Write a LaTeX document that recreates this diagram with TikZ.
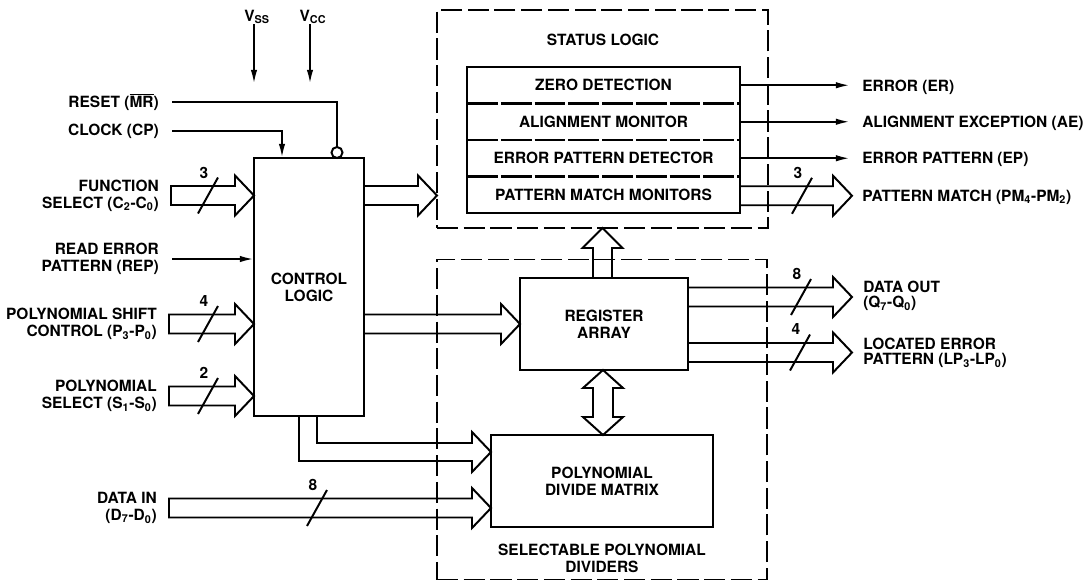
\documentclass[tikz,border=0pt]{standalone}
\usepackage{fontspec}
\setmainfont{TeX Gyre Heros}
\usetikzlibrary{arrows.meta,calc,positioning}

\newlength\px
\setlength\px{0.025cm}
\newcommand\dgfont{\fontsize{11}{12}\selectfont\bfseries}

% hollow bus arrow, from tail #1 to tip #2 (same height)
\newcommand\hbus[2]{%
  \draw[bus] ($(#1)+(0,-9.5)$) -- ($(#2)+(-19,-9.5)$) -- ($(#2)+(-19,-20)$)
    -- (#2) -- ($(#2)+(-19,20)$) -- ($(#2)+(-19,9.5)$) -- ($(#1)+(0,9.5)$) -- cycle;}
% bus width mark: point, name, number
\newcommand\bwidth[3]{%
  \draw[wire] ($(#1)+(-10,18)$) -- ($(#1)+(10,-18)$);
  \node[txt] (#2) at ($(#1)+(-4,-23)$) {#3};}

\tikzset{
  blk/.style={draw, line width=2.1pt, inner sep=0pt, outer sep=0pt, align=center, font=\dgfont},
  grp/.style={draw, line width=1.4pt, dash pattern=on 15pt off 4pt, inner sep=0pt, outer sep=0pt},
  row/.style={inner sep=0pt, outer sep=0pt, minimum width=273\px, minimum height=36.5\px, font=\dgfont},
  txt/.style={inner sep=0pt, font=\dgfont},
  lin/.style={txt, anchor=east, align=right},
  lout/.style={txt, anchor=west, align=left, font=\fontsize{11}{11}\selectfont\bfseries},
  wire/.style={line width=1.4pt},
  sig/.style={wire, -{Latex[length=10pt,width=4.5pt]}},
  bus/.style={draw, line width=1.4pt, line join=miter},
  sep/.style={line width=2.1pt, dash pattern=on 22pt off 2pt},
  bub/.style={draw, circle, line width=1.4pt, minimum size=11\px, inner sep=0pt, outer sep=0pt},
}

\begin{document}
\begin{tikzpicture}[x=0.025cm, y=-0.025cm]
\useasboundingbox (0,0) rectangle (1090,581);

% dashed groups
\node[grp, minimum width=331\px, minimum height=218\px] (stat) at (602.5,119) {};
\node[txt] (statT) at (603,40) {STATUS LOGIC};
\node[grp, minimum width=330\px, minimum height=320\px] (spd) at (602,419.5) {};
\node[txt, align=center] (spdT) at (602,558.5) {SELECTABLE POLYNOMIAL\\DIVIDERS};

% status logic rows
\node[row] (zd) at (603.5,85.25) {ZERO DETECTION};
\node[row, below=0pt of zd] (am) {ALIGNMENT MONITOR};
\node[row, below=0pt of am] (epd) {ERROR PATTERN DETECTOR};
\node[row, below=0pt of epd] (pmm) {PATTERN MATCH MONITORS};
\foreach \r in {zd,am,epd}
  \draw[sep] (\r.south west) -- (\r.south east);
\draw[line width=2.1pt] (zd.north west) rectangle (pmm.south east);

% blocks
\node[blk, minimum width=110\px, minimum height=258\px] (ctl) at (309,287) {CONTROL\\LOGIC};
\node[blk, minimum width=168\px, minimum height=92\px] (reg) at (604,324) {REGISTER\\ARRAY};
\node[blk, minimum width=222\px, minimum height=92\px] (pdm) at (602,481) {POLYNOMIAL\\DIVIDE MATRIX};

% supplies
\node[txt] (vss) at (257,17) {V\textsubscript{SS}};
\node[txt] (vcc) at (313,17) {V\textsubscript{CC}};
\coordinate (vssE) at (254,84);
\coordinate (vccE) at (310,84);
\draw[sig] (vss.south -| vssE) -- (vssE);
\draw[sig] (vcc.south -| vccE) -- (vccE);

% inputs
\node[lin] (mr) at (159,102) {RESET ($\overline{\mbox{MR}}$)};
\node[lin] (cp) at (159,131) {CLOCK (CP)};
\node[lin] (fs) at (159,195.5) {FUNCTION\\SELECT (C\textsubscript{2}-C\textsubscript{0})};
\node[lin] (rep) at (159,259) {READ ERROR\\PATTERN (REP)};
\node[lin] (psc) at (157,324) {POLYNOMIAL SHIFT\\CONTROL (P\textsubscript{3}-P\textsubscript{0})};
\node[lin] (ps) at (157,396) {POLYNOMIAL\\SELECT (S\textsubscript{1}-S\textsubscript{0})};
\node[lin] (din) at (157,508) {DATA IN\\(D\textsubscript{7}-D\textsubscript{0})};

\node[bub] (mrb) at (337,152.5) {};
\coordinate (cpB) at (282,0);
\draw[wire] ([xshift=13\px]mr.east) -| (mrb.north);
\draw[sig] ([xshift=13\px]cp.east) -| (cpB |- ctl.north);
\draw[sig] ([xshift=13\px]rep.east) -- (rep.east -| ctl.west);

\coordinate (fsA) at ([xshift=12\px]fs.east);
\coordinate (fsB) at (fsA -| ctl.west);
\coordinate (pscA) at ([xshift=12\px]psc.east);
\coordinate (pscB) at (pscA -| ctl.west);
\coordinate (psA) at ([xshift=12\px]ps.east);
\coordinate (psB) at (psA -| ctl.west);
\coordinate (dinA) at ([xshift=12\px]din.east);
\coordinate (dinB) at (dinA -| pdm.west);
\hbus{fsA}{fsB}
\hbus{pscA}{pscB}
\hbus{psA}{psB}
\hbus{dinA}{dinB}
\coordinate (fsM) at (fsA -| 208,0);
\coordinate (pscM) at (pscA -| 208,0);
\coordinate (psM) at (psA -| 208,0);
\coordinate (dinM) at (dinA -| 317,0);
\bwidth{fsM}{fsN}{3}
\bwidth{pscM}{pscN}{4}
\bwidth{psM}{psN}{2}
\bwidth{dinM}{dinN}{8}

% control logic to status, register array, divide matrix
\coordinate (csA) at (fsA -| ctl.east);
\coordinate (csB) at (fsA -| stat.west);
\hbus{csA}{csB}
\coordinate (crA) at (reg.west -| ctl.east);
\hbus{crA}{reg.west}
\coordinate (lbO) at (ctl.south -| 299,0);
\coordinate (lbI) at (ctl.south -| 317,0);
\coordinate (lbT) at (pdm.west |- 0,452);
\draw[bus] (lbO) -- (lbO |- 0,461) -- ($(lbT)+(-19,9)$) -- ($(lbT)+(-19,20)$) -- (lbT)
  -- ($(lbT)+(-19,-20)$) -- ($(lbT)+(-19,-9)$) -- (lbI |- 0,443) -- (lbI);

% register array to status logic
\coordinate (rsA) at ([xshift=-1.5\px]reg.north);
\coordinate (rsB) at (rsA |- stat.south);
\draw[bus] ($(rsA)+(-9.5,0)$) -- ($(rsB)+(-9.5,20)$) -- ($(rsB)+(-20,20)$) -- (rsB)
  -- ($(rsB)+(20,20)$) -- ($(rsB)+(9.5,20)$) -- ($(rsA)+(9.5,0)$);

% register array <-> divide matrix
\coordinate (dbT) at ([xshift=-1\px]reg.south);
\coordinate (dbB) at (dbT |- pdm.north);
\draw[bus] (dbT) -- ($(dbT)+(-20,18)$) -- ($(dbT)+(-10,18)$) -- ($(dbB)+(-10,-18)$)
  -- ($(dbB)+(-20,-18)$) -- (dbB) -- ($(dbB)+(20,-18)$) -- ($(dbB)+(10,-18)$)
  -- ($(dbT)+(10,18)$) -- ($(dbT)+(20,18)$) -- cycle;

% outputs
\node[lout] (er) at (862,87) {ERROR (ER)};
\node[lout] (ae) at (862,123) {ALIGNMENT EXCEPTION (AE)};
\node[lout] (ep) at (862,159) {ERROR PATTERN (EP)};
\node[lout] (pm) at (862,197) {PATTERN MATCH (PM\textsubscript{4}-PM\textsubscript{2})};
\node[lout] (dout) at (863,296) {DATA OUT\\(Q\textsubscript{7}-Q\textsubscript{0})};
\node[lout] (lep) at (863,353) {LOCATED ERROR\\PATTERN (LP\textsubscript{3}-LP\textsubscript{0})};

\draw[sig, shorten >=12\px] (zd.east) -- (zd.east -| er.west);
\draw[sig, shorten >=12\px] (am.east) -- (am.east -| ae.west);
\draw[sig, shorten >=12\px] (epd.east) -- (epd.east -| ep.west);

\coordinate (pmA) at ([yshift=-1\px]pmm.east);
\coordinate (pmB) at ([xshift=-10\px]pmA -| pm.west);
\hbus{pmA}{pmB}
\coordinate (doA) at ([yshift=27\px]reg.east);
\coordinate (doB) at ([xshift=-11\px]doA -| dout.west);
\hbus{doA}{doB}
\coordinate (lpA) at ([yshift=-28.5\px]reg.east);
\coordinate (lpB) at ([xshift=-11\px]lpA -| lep.west);
\hbus{lpA}{lpB}
\coordinate (pmM) at (pmA -| 802,0);
\coordinate (doM) at (doA -| 801,0);
\coordinate (lpM) at (lpA -| 800,0);
\bwidth{pmM}{pmN}{3}
\bwidth{doM}{doN}{8}
\bwidth{lpM}{lpN}{4}
\end{tikzpicture}
\end{document}
